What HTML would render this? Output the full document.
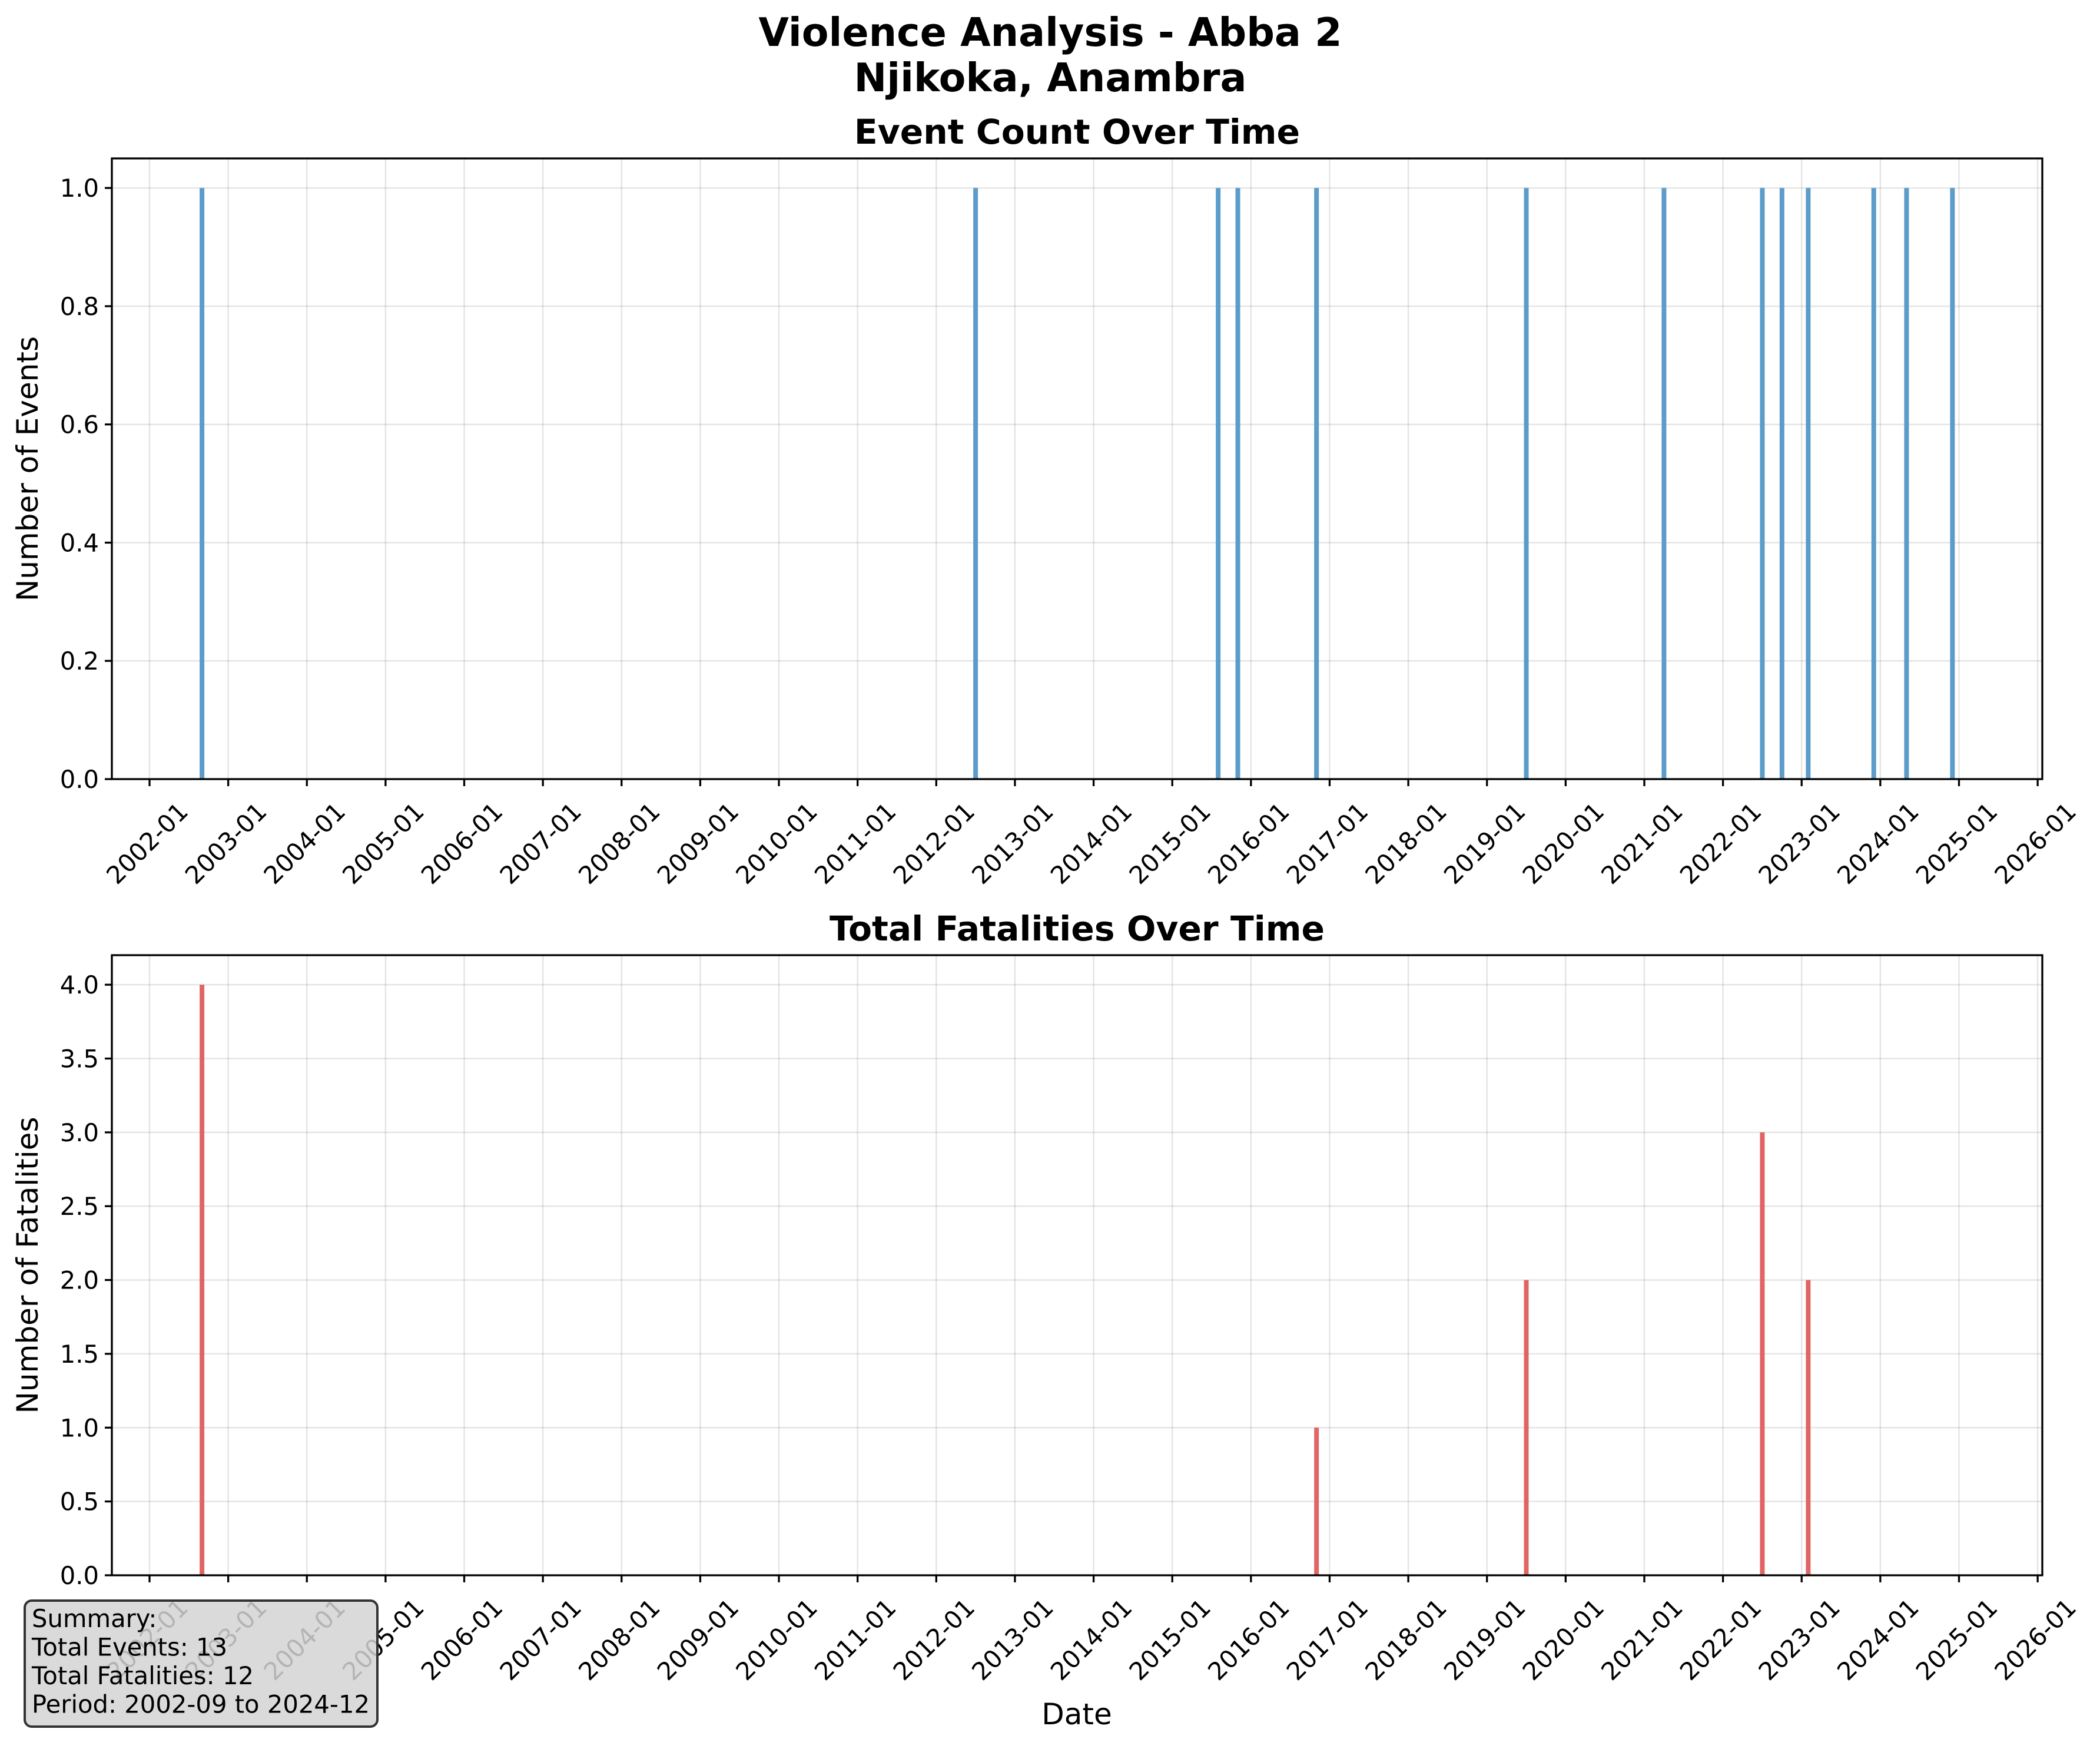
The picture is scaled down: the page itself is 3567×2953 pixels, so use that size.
<!DOCTYPE html>
<html><head><meta charset="utf-8"><style>
html,body{margin:0;padding:0;background:#fff}
svg{display:block}
text{font-family:"DejaVu Sans","Liberation Sans",sans-serif;fill:#000}
</style></head><body>
<svg id="chart" width="3567" height="2953" viewBox="0 0 3567 2953" xmlns="http://www.w3.org/2000/svg">
<rect width="3567" height="2953" fill="#fff"/>
<text x="1784" y="78" font-size="66.7" font-weight="bold" text-anchor="middle">Violence Analysis - Abba 2</text>
<text x="1784" y="155" font-size="66.7" font-weight="bold" text-anchor="middle">Njikoka, Anambra</text>
<g id="p1"></g>
<g id="p2"></g>
<g id="summary"></g>
</svg>
<script>
const eventDates = ["2002-09","2012-07","2015-08","2015-11","2016-11","2019-07","2021-04","2022-07","2022-10","2023-02","2023-12","2024-05","2024-12"];
const eventCounts = [1,1,1,1,1,1,1,1,1,1,1,1,1];
const fatalDates = ["2002-09","2016-11","2019-07","2022-07","2023-02"];
const fatalValues = [4,1,2,3,2];
const xTickYears = [2002,2003,2004,2005,2006,2007,2008,2009,2010,2011,2012,2013,2014,2015,2016,2017,2018,2019,2020,2021,2022,2023,2024,2025,2026];
const yTicks1 = [0,0.2,0.4,0.6,0.8,1.0];
const yTicks2 = [0,0.5,1,1.5,2,2.5,3,3.5,4];

const NS="http://www.w3.org/2000/svg";
function mk(parent,tag,attrs,txt){const e=document.createElementNS(NS,tag);for(const k in attrs)e.setAttribute(k,attrs[k]);if(txt!==undefined)e.textContent=txt;parent.appendChild(e);return e;}
const L=190,R=3469;
function xScale(dec){return 254+(dec-2002)*133.63;}
function dateDec(s){const p=s.split('-');return +p[0]+(+p[1]-1)/12;}

function panel(g,top,bottom,ymax,yticks,dates,vals,color,title,ylabel){
  const ys=v=>bottom-(v/ymax)*(bottom-top);
  xTickYears.forEach(y=>{const l=mk(g,'line',{x1:xScale(y),x2:xScale(y),y1:top,y2:bottom,stroke:'#000','stroke-opacity':0.1,'stroke-width':2.5});
    
    });
  yticks.forEach(v=>{const l=mk(g,'line',{x1:L,x2:R,y1:ys(v),y2:ys(v),stroke:'#000','stroke-opacity':0.1,'stroke-width':2.5});
    
    });
  dates.forEach((d,i)=>{const x=xScale(dateDec(d));const b=mk(g,'rect',{x:x-4,y:ys(vals[i]),width:8,height:bottom-ys(vals[i]),fill:color});
    
    });
  const f=mk(g,'rect',{x:L,y:top,width:R-L,height:bottom-top,fill:'none',stroke:'#000','stroke-width':3.3});
  
  
  yticks.forEach(v=>{mk(g,'line',{x1:L-12,x2:L,y1:ys(v),y2:ys(v),stroke:'#000','stroke-width':3.3});
    const t=mk(g,'text',{x:L-22,y:ys(v)+15,'font-size':41.7,'text-anchor':'end'},v.toFixed(1));
    
    });
  xTickYears.forEach(y=>{const x=xScale(y);mk(g,'line',{x1:x,x2:x,y1:bottom,y2:bottom+12,stroke:'#000','stroke-width':3.3});
    const t=mk(g,'text',{x:0,y:0,'font-size':41.7,'text-anchor':'middle','dominant-baseline':'central',transform:`translate(${x-4},${bottom+109}) rotate(-45)`},y+'-01');
    
    });
  const tt=mk(g,'text',{x:(L+R)/2,y:top-25,'font-size':58.3,'font-weight':'bold','text-anchor':'middle'},title);
  
  
  const yl=mk(g,'text',{x:0,y:0,'font-size':50,'text-anchor':'middle',transform:`translate(64,${(top+bottom)/2}) rotate(-90)`},ylabel);
  
  
}
panel(document.getElementById('p1'),269,1323,1.05,yTicks1,eventDates,eventCounts,'#5b9ccb','Event Count Over Time','Number of Events');
panel(document.getElementById('p2'),1622,2675,4.2,yTicks2,fatalDates,fatalValues,'#e06666','Total Fatalities Over Time','Number of Fatalities');
const xl=mk(document.getElementById('p2'),'text',{x:1829,y:2928,'font-size':50,'text-anchor':'middle'},'Date');



const sg=document.getElementById('summary');
const box=mk(sg,'rect',{x:42,y:2718,width:599,height:214,rx:12,fill:'#d3d3d3','fill-opacity':0.85,stroke:'#333','stroke-width':4});


const lines=['Summary:','Total Events: 13','Total Fatalities: 12','Period: 2002-09 to 2024-12'];
lines.forEach((s,i)=>{const t=mk(sg,'text',{x:54,y:2763+i*48.5,'font-size':41.7},s);
  
  });
</script>
</body></html>
